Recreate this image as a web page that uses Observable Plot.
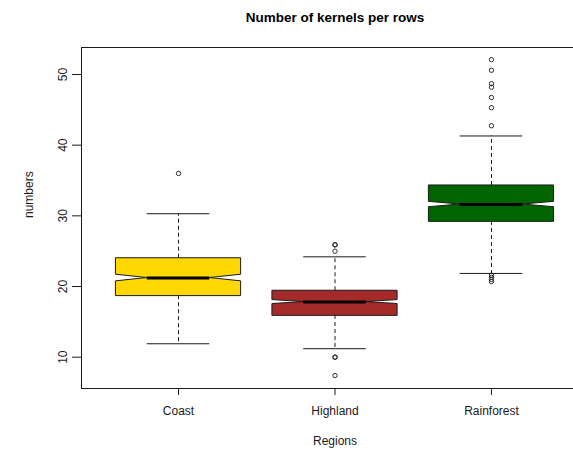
<!DOCTYPE html>
<html><head><meta charset="utf-8">
<script src="https://cdn.jsdelivr.net/npm/d3@7"></script>
<script src="https://cdn.jsdelivr.net/npm/@observablehq/plot@0.6"></script>
<style>
html,body{margin:0;padding:0;background:#fff;overflow:hidden;}
#chart svg{display:block;overflow:hidden;}
</style></head><body><div id="chart"></div>
<script>
// ---- data ----
const regions = ["Coast", "Highland", "Rainforest"];
const colors = ["#FFD700", "#A52A2A", "#006400"];
const q1 = [18.7, 15.9, 29.2];
const median = [21.2, 17.8, 31.6];
const q3 = [24.0, 19.4, 34.3];
const whiskerLow = [11.9, 11.2, 21.85];
const whiskerHigh = [30.3, 24.2, 41.3];
const notch = [0.47, 0.28, 0.38];
const outliersCoast = [36.0];
const outliersHighland = [25.9, 25.9, 25.0, 10.0, 10.0, 7.4];
const outliersRainforest = [52.1, 50.6, 48.7, 48.2, 46.75, 45.3, 42.75, 21.6, 21.3, 21.0, 20.7];
const yTicks = [10, 20, 30, 40, 50];
const title = "Number of kernels per rows";
const xLabel = "Regions";
const yLabel = "numbers";

// ---- derived tables ----
const BOX = 0.4, NOTCH = 0.2, STAPLE = 0.2;
const stats = regions.map((r, i) => ({
  region: r, pos: i + 1, q1: q1[i], med: median[i], q3: q3[i],
  lo: whiskerLow[i], hi: whiskerHigh[i], n: notch[i]
}));
const poly = stats.flatMap(s => [
  {region: s.region, y: s.q1, x1: s.pos - BOX, x2: s.pos + BOX},
  {region: s.region, y: s.med - s.n, x1: s.pos - BOX, x2: s.pos + BOX},
  {region: s.region, y: s.med, x1: s.pos - NOTCH, x2: s.pos + NOTCH},
  {region: s.region, y: s.med + s.n, x1: s.pos - BOX, x2: s.pos + BOX},
  {region: s.region, y: s.q3, x1: s.pos - BOX, x2: s.pos + BOX}
]);
const outliers = [outliersCoast, outliersHighland, outliersRainforest]
  .flatMap((arr, i) => arr.map(v => ({pos: i + 1, value: v})));

const ink = "#1a1a1a";
const chart = Plot.plot({
  width: 573, height: 455,
  marginLeft: 81, marginRight: -15, marginTop: 47, marginBottom: 67,
  style: {fontFamily: "'Liberation Sans', Arial, sans-serif", fontSize: "12px", color: ink, background: "#fff"},
  x: {domain: [0.38, 3.62]},
  y: {domain: [5.57, 53.82]},
  color: {domain: regions, range: colors},
  marks: [
    Plot.ruleX(stats, {x: "pos", y1: "q3", y2: "hi", stroke: ink, strokeDasharray: "4,3"}),
    Plot.ruleX(stats, {x: "pos", y1: "q1", y2: "lo", stroke: ink, strokeDasharray: "4,3"}),
    Plot.ruleY(stats, {y: "hi", x1: d => d.pos - STAPLE, x2: d => d.pos + STAPLE, stroke: ink}),
    Plot.ruleY(stats, {y: "lo", x1: d => d.pos - STAPLE, x2: d => d.pos + STAPLE, stroke: ink}),
    Plot.areaX(poly, {y: "y", x1: "x1", x2: "x2", z: "region", fill: "region", stroke: ink, strokeWidth: 1}),
    Plot.ruleY(stats, {y: "med", x1: d => d.pos - NOTCH, x2: d => d.pos + NOTCH, stroke: "#000", strokeWidth: 3}),
    Plot.dot(outliers, {x: "pos", y: "value", r: 2.2, stroke: ink, strokeWidth: 0.9, fill: "none"}),
    Plot.frame({stroke: ink}),
    Plot.axisX({ticks: stats.map(s => s.pos), tickFormat: d => regions[d - 1], tickSize: 7, tickPadding: 11, label: null, stroke: ink}),
    Plot.axisY({ticks: yTicks, tickSize: 9, tickRotate: -90, tickPadding: 6, label: null, stroke: ink}),
    Plot.text([xLabel], {frameAnchor: "bottom", dy: 56, fill: ink}),
    Plot.text([yLabel], {frameAnchor: "left", dx: -52, rotate: -90, fill: ink}),
    Plot.text([title], {frameAnchor: "top", dy: -35, fontWeight: "bold", fontSize: 13.5, fill: "#000"})
  ]
});
document.getElementById("chart").appendChild(chart);
</script></body></html>
